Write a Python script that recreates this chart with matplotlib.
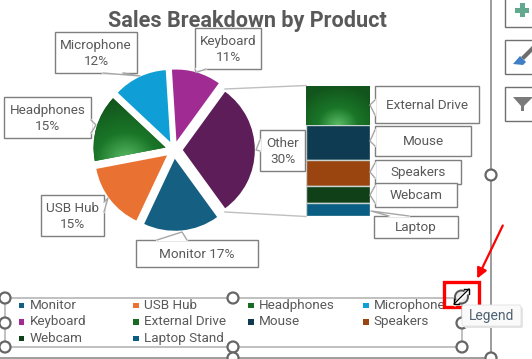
import numpy as np
import matplotlib
matplotlib.use("Agg")
import matplotlib.pyplot as plt
from matplotlib.patches import Rectangle, Polygon, Circle, FancyBboxPatch

# %% Data
title = "Sales Breakdown by Product"
pie_names = ["Other", "Monitor", "USB Hub", "Headphones", "Microphone", "Keyboard"]
pie_values = [30, 17, 15, 15, 12, 11]
pie_colors = ["#5C1D58", "#156082", "#E97132", "#196B24", "#0F9ED5", "#A02B93"]

bar_names = ["External Drive", "Mouse", "Speakers", "Webcam", "Laptop"]
bar_values = [9, 8, 6, 4, 3]
bar_colors = ["#196B24", "#0E3A52", "#9A4410", "#104018", "#0B5E83"]

legend_names = ["Monitor", "USB Hub", "Headphones", "Microphone",
                "Keyboard", "External Drive", "Mouse", "Speakers",
                "Webcam", "Laptop Stand"]
legend_colors = ["#156082", "#E97132", "#196B24", "#0F9ED5",
                 "#A02B93", "#196B24", "#0E3A52", "#9A4410",
                 "#104018", "#0B5E83"]

W, H = 532, 359
TXT = "#595959"
EDGE = "#7F7F7F"
plt.rcParams['font.family'] = ['Roboto', 'DejaVu Sans']

fig = plt.figure(figsize=(W/100, H/100), dpi=100)

def px_axes(x0, y0, x1, y1):
    return fig.add_axes([x0/W, 1-y1/H, (x1-x0)/W, (y1-y0)/H])

def green_glow(ax, patch, extent, cx, cy, scale):
    # radial highlight on the green pieces
    xs = np.linspace(extent[0], extent[1], 200)
    ys = np.linspace(extent[2], extent[3], 200)
    X, Y = np.meshgrid(xs, ys)
    d = np.clip(np.hypot((X-cx)/scale[0], (Y-cy)/scale[1]), 0, 1)[..., None]
    c0 = np.array([0x5A, 0xBC, 0x66])/255
    c1 = np.array([0x1A, 0x76, 0x28])/255
    c2 = np.array([0x12, 0x55, 0x1C])/255
    img = np.where(d < 0.45, c0+(c1-c0)*d/0.45, c1+(c2-c1)*(d-0.45)/0.55)
    im = ax.imshow(img, extent=extent, origin='lower', aspect='auto', zorder=patch.get_zorder()+0.1)
    im.set_clip_path(patch)

# %% Pie
axp = px_axes(74, 50, 274, 250)
wedges, _ = axp.pie(pie_values, colors=pie_colors, startangle=54, counterclock=False,
                    radius=0.9, explode=[0.11]*6)
green_glow(axp, wedges[3], (-1.2, 0.2, -0.4, 0.9), -0.6, -0.12, (0.85, 0.75))
axp.set_xlim(-1.25, 1.25)
axp.set_ylim(-1.25, 1.25)
axp.set_aspect('equal')
axp.axis('off')

# %% Stacked bar of the Other slice
axb = px_axes(306, 86, 370, 216)
bottom = 0
bars = []
for v, c in zip(bar_values, bar_colors):
    bars.append(axb.bar(0, v, bottom=bottom, width=1, color=c, edgecolor="#C8D4D0", linewidth=1.0)[0])
    bottom += v
green_glow(axb, bars[0], (-0.5, 0.5, 9, 0), 0, 9, (0.7, 9))
axb.set_xlim(-0.5, 0.5)
axb.set_ylim(30, 0)
axb.axis('off')

# %% Overlay in pixel coordinates
ax = fig.add_axes([0, 0, 1, 1], zorder=5)
ax.set_xlim(0, W)
ax.set_ylim(H, 0)
ax.axis('off')
ax.patch.set_alpha(0)

ax.text(247.5, 21, title, ha='center', va='center', fontsize=15.6, fontweight='bold', color=TXT)

# leader lines to the bar
ax.plot([225, 306], [89, 85.5], color="#BFBFBF", lw=1)
ax.plot([225, 306], [212, 216.5], color="#BFBFBF", lw=1)

def callout(text, box, base1, tip, base2, fs=9.7):
    x0, y0, x1, y1 = box
    ax.add_patch(Rectangle((x0, y0), x1-x0, y1-y0, fc='white', ec=EDGE, lw=1, zorder=3))
    ax.plot([base1[0], base2[0]], [base1[1], base2[1]], color='white', lw=1.6, zorder=3.1)
    ax.plot([base1[0], tip[0], base2[0]], [base1[1], tip[1], base2[1]], color="#A6A6A6", lw=1, zorder=3.2)
    ax.text((x0+x1)/2, (y0+y1)/2 + 0.7, text, ha='center', va='center', fontsize=fs, color=TXT,
            linespacing=1.3, zorder=3.3)

callout("Microphone\n12%", (55, 32, 137, 73), (103, 73), (140, 76), (123, 73))
callout("Keyboard\n11%", (195, 28, 261, 69), (195, 69), (196, 72.5), (206, 69))
callout("Headphones\n15%", (4, 97, 91, 138), (91, 120), (96, 125), (91, 133))
callout("Other\n30%", (260, 130, 305, 171), (260, 140), (256, 150), (260, 151))
callout("USB Hub\n15%", (41, 195, 104, 236), (104, 202), (108, 198), (104, 212))
callout("Monitor 17%", (136, 240, 258, 267), (157, 240), (182, 232), (187, 240))
callout(bar_names[0], (375, 86, 479, 123), (375, 100), (370, 105), (375, 115))
callout(bar_names[1], (375, 126, 471, 156), (375, 130), (370, 141), (375, 146))
callout(bar_names[2], (375, 160, 461, 184), (375, 163), (370, 172), (375, 178))
callout(bar_names[3], (375, 183, 457, 207), (375, 186), (370, 195), (375, 203))
callout(bar_names[4], (374, 216, 458, 238), (389, 216), (371, 211), (409, 216))

# %% Legend
for i, (name, col) in enumerate(zip(legend_names, legend_colors)):
    lx = 18.5 + 114.8*(i % 4)
    ly = 305.5 + 16.4*(i//4)
    ax.add_patch(Rectangle((lx, ly-2.8), 5.6, 5.6, fc=col, ec='none', zorder=3))
    ax.text(lx+11, ly, name, ha='left', va='center', fontsize=9.7, color=TXT, zorder=3)

# %% Selection frames and handles
ax.plot([5, 462, 462, 5, 5], [298, 298, 347, 347, 298], color="#B5B5B5", lw=1.2, zorder=2)
ax.plot([491, 491], [0, 358], color="#8C8C8C", lw=1.2, zorder=2)
ax.plot([0, 491], [358, 358], color="#8C8C8C", lw=1.2, zorder=2)
handles = [(5, 298), (233, 298), (5, 323), (5, 347), (233, 347), (462, 323), (462, 347),
           (491, 175), (233, 358), (491, 358)]
for hx, hy in handles:
    ax.add_patch(Circle((hx, hy), 5.5, fc='white', ec="#666666", lw=1.6, zorder=4))

# side buttons
for y0, y1 in [(-2, 27), (40, 74), (87, 121)]:
    ax.add_patch(Rectangle((505, y0), 30, y1-y0, fc='white', ec="#707070", lw=1, zorder=2))
ax.add_patch(Rectangle((515, 8), 14, 5, fc="#62A98F", zorder=3))
ax.add_patch(Rectangle((519.5, 3), 5, 14, fc="#62A98F", zorder=3))
ax.plot([524, 532], [57, 49], color="#6E6E6E", lw=3, zorder=3)
ax.add_patch(Polygon([(513, 64), (520, 56), (526, 62), (523, 65)], fc="#3F7FC4", ec='none', zorder=3))
ax.add_patch(Polygon([(513, 97), (532, 97), (532, 98), (524, 106), (524, 111), (521, 111), (521, 106)],
                     fc="#7A7A7A", ec='none', zorder=3))

# red arrow and box on the resize cursor
ax.add_patch(Rectangle((443.5, 282), 35, 25, fc='none', ec="#FF0000", lw=2.4, zorder=6))
ax.annotate("", xy=(476, 281), xytext=(504, 223),
            arrowprops=dict(arrowstyle="-|>", color="#FF0000", lw=1.6, mutation_scale=15), zorder=6)
ax.add_patch(Circle((461.5, 297), 6.5, fc='#E8E8E8', ec="#555555", lw=1.4, zorder=6))
ax.plot([455, 469], [304, 290], color='white', lw=3, zorder=6.1)
ax.plot([454, 469], [304, 289], color='black', lw=0.9, zorder=6.2)
ax.plot([454, 454, 459], [299, 304, 304], color='black', lw=1, zorder=6.2)
ax.plot([464, 469, 469], [289, 289, 294], color='black', lw=1, zorder=6.2)

# tooltip
ax.add_patch(FancyBboxPatch((464, 307), 59, 21, boxstyle="round,pad=0,rounding_size=2",
                            fc="#E4E4E4", ec='none', zorder=6))
ax.add_patch(FancyBboxPatch((462, 305), 59, 21, boxstyle="round,pad=0,rounding_size=2",
                            fc="#FAFAFA", ec="#E0E0E0", lw=0.6, zorder=6.3))
ax.text(491.5, 316, "Legend", ha='center', va='center', fontsize=10, color="#4F6272", zorder=6.4)

fig.savefig("out.png", dpi=100)
